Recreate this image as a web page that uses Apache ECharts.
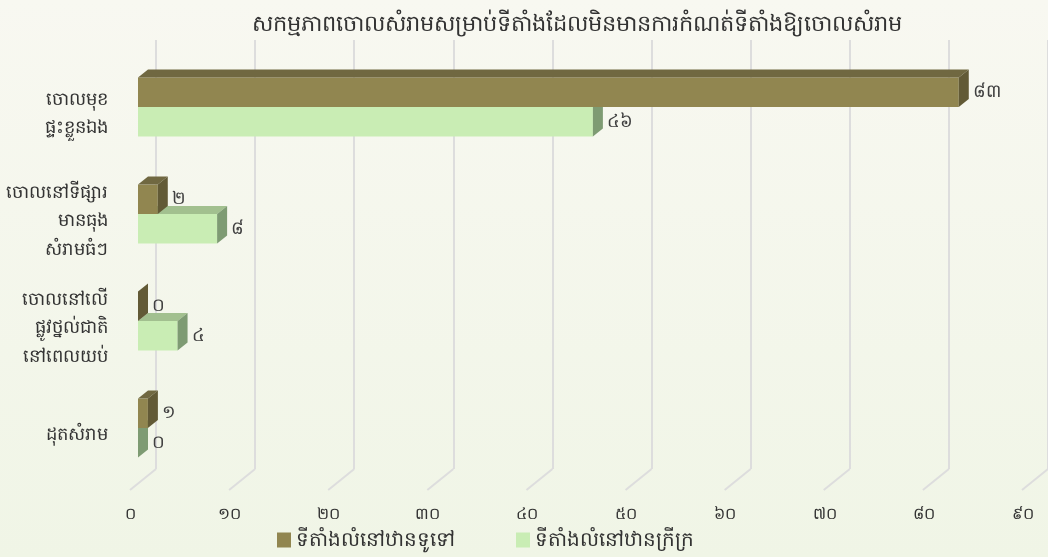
<!DOCTYPE html>
<html>
<head>
<meta charset="utf-8">
<script src="https://cdn.jsdelivr.net/npm/echarts@6/dist/echarts.min.js"></script>
<style>
html,body{margin:0;padding:0;}
#main{width:1048px;height:557px;}
</style>
</head>
<body>
<div id="main"></div>
<script>
var categories = ['ចោលមុខ\nផ្ទះខ្លួនឯង', 'ចោលនៅទីផ្សារ\nមានធុង\nសំរាមធំៗ', 'ចោលនៅលើ\nផ្លូវថ្នល់ជាតិ\nនៅពេលយប់', 'ដុតសំរាម'];
var seriesNames = ['ទីតាំងលំនៅឋានទូទៅ', 'ទីតាំងលំនៅឋានក្រីក្រ'];
var generalValues = [83, 2, 0, 1];
var poorValues = [46, 8, 4, 0];
var tickValues = [0, 10, 20, 30, 40, 50, 60, 70, 80, 90];
var titleText = 'សកម្មភាពចោលសំរាមសម្រាប់ទីតាំងដែលមិនមានការកំណត់ទីតាំងឱ្យចោលសំរាម';

var khDigits = ['០', '១', '២', '៣', '៤', '៥', '៦', '៧', '៨', '៩'];
function kh(n) {
    return String(n).replace(/[0-9]/g, function (d) { return khDigits[+d]; });
}

var FONT = '"Noto Sans", "DejaVu Sans", sans-serif';

// 3D bar drawn with library coordinates; side = -1 upper bar, 1 lower bar
function bar3d(side, front, top, right) {
    return function (params, api) {
        var v = api.value(0);
        var p0 = api.coord([0, api.value(1)]);
        var p1 = api.coord([v, api.value(1)]);
        var band = api.size([0, 1])[1];
        var bh = band * 0.275;
        var dx = 10, dy = -8;
        var x0 = p0[0], x1 = p1[0];
        var y0 = side < 0 ? p0[1] - bh : p0[1];
        return {
            type: 'group',
            children: [
                {type: 'rect', shape: {x: x0, y: y0, width: x1 - x0, height: bh}, style: {fill: front}},
                {type: 'polygon', shape: {points: [[x0, y0], [x0 + dx, y0 + dy], [x1 + dx, y0 + dy], [x1, y0]]}, style: {fill: top}},
                {type: 'polygon', shape: {points: [[x1, y0], [x1 + dx, y0 + dy], [x1 + dx, y0 + dy + bh], [x1, y0 + bh]]}, style: {fill: right}},
                {type: 'text', style: {x: x1 + dx + 4, y: y0 + bh / 2, text: kh(v), fill: '#404040', font: '18px ' + FONT, verticalAlign: 'middle', align: 'left'}}
            ]
        };
    };
}

var chart = echarts.init(document.getElementById('main'));
var option = {
    backgroundColor: {
        type: 'linear', x: 0, y: 0, x2: 0, y2: 1,
        colorStops: [{offset: 0, color: '#f8f8f1'}, {offset: 1, color: '#f0f5e6'}]
    },
    animation: false,
    title: {
        text: titleText,
        left: 572,
        textAlign: 'center',
        top: 8,
        textStyle: {fontSize: 22.5, fontWeight: 'normal', color: '#333', fontFamily: FONT}
    },
    legend: {
        bottom: 2,
        left: 272,
        itemGap: 61,
        itemWidth: 14,
        itemHeight: 15,
        icon: 'rect',
        data: seriesNames,
        textStyle: {fontSize: 20, color: '#333', fontFamily: FONT}
    },
    grid: [
        {left: 138, right: 20, top: 53.5, bottom: 75.5},
        {left: 156, width: 893, top: 40, bottom: 88},
        {left: 130, width: 893, top: 480, bottom: 67},
        // label grid, sits a few px lower than the bar grid
        {left: 138, right: 20, top: 60.5, bottom: 68.5}
    ],
    xAxis: [
        {gridIndex: 0, type: 'value', min: 0, max: 90, show: false},
        {gridIndex: 1, type: 'value', min: 0, max: 90, interval: 10,
            axisLine: {show: false}, axisTick: {show: false}, axisLabel: {show: false},
            splitLine: {show: true, lineStyle: {color: '#dddddd', width: 2}}},
        {gridIndex: 2, type: 'value', min: 0, max: 90, interval: 10,
            axisLine: {show: false}, axisTick: {show: false}, splitLine: {show: false},
            axisLabel: {margin: 16, fontSize: 16, color: '#333', fontFamily: FONT, formatter: function (v) { return kh(v); }}},
        {gridIndex: 3, type: 'value', min: 0, max: 90, show: false}
    ],
    yAxis: [
        {gridIndex: 0, type: 'category', inverse: true, data: categories, show: false},
        {gridIndex: 1, type: 'value', min: 0, max: 1, show: false},
        {gridIndex: 2, type: 'value', min: 0, max: 1, show: false},
        {gridIndex: 3, type: 'category', inverse: true, data: categories,
            axisLine: {show: false}, axisTick: {show: false}, splitLine: {show: false},
            axisLabel: {margin: 30, fontSize: 18, lineHeight: 28.5, color: '#333', fontFamily: FONT, align: 'right'}}
    ],
    series: [
        {
            name: seriesNames[0],
            type: 'custom',
            xAxisIndex: 0, yAxisIndex: 0,
            z: 4,
            itemStyle: {color: '#918650'},
            renderItem: bar3d(-1, '#918650', '#706841', '#625a36'),
            data: generalValues.map(function (v, i) { return [v, i]; })
        },
        {
            name: seriesNames[1],
            type: 'custom',
            xAxisIndex: 0, yAxisIndex: 0,
            z: 3,
            itemStyle: {color: '#c9edb4'},
            renderItem: bar3d(1, '#c9edb4', '#a2c08f', '#7e9b73'),
            data: poorValues.map(function (v, i) { return [v, i]; })
        },
        {
            // floor lines joining the back wall to the front labels
            type: 'custom',
            xAxisIndex: 1, yAxisIndex: 1,
            silent: true,
            z: 1,
            renderItem: function (params, api) {
                var p = api.coord([api.value(0), 0]);
                return {type: 'line', shape: {x1: p[0], y1: p[1], x2: p[0] - 26, y2: p[1] + 21},
                    style: {stroke: '#dddddd', lineWidth: 2}};
            },
            data: tickValues.map(function (t) { return [t]; })
        }
    ]
};
chart.setOption(option);
</script>
</body>
</html>
